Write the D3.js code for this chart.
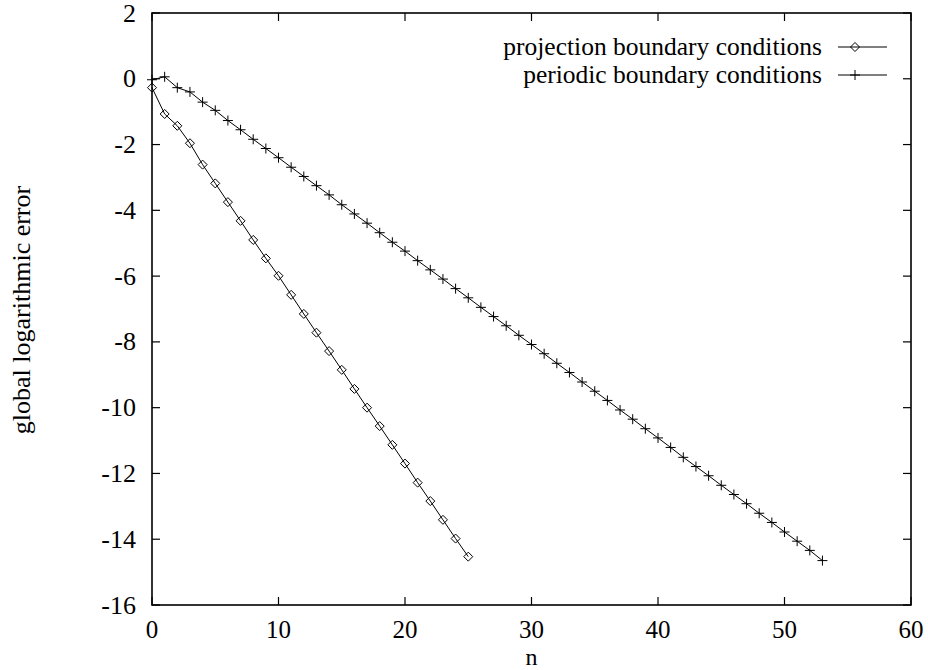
<!DOCTYPE html>
<html>
<head>
<meta charset="utf-8">
<script src="https://cdn.jsdelivr.net/npm/d3@7"></script>
<style>
  html, body { margin: 0; padding: 0; background: #fff; }
  svg { display: block; }
</style>
</head>
<body>
<svg id="chart" width="928" height="670"></svg>
<script>
// ---- data ----
const projectionN = d3.range(0, 26);
const projectionErr = [
  -0.27, -1.07, -1.43, -1.96, -2.61, -3.18, -3.75, -4.32, -4.90, -5.46,
  -5.99, -6.57, -7.15, -7.72, -8.28, -8.85, -9.43, -10.00, -10.56, -11.13,
  -11.70, -12.28, -12.84, -13.41, -13.98, -14.53
];
const periodicN = d3.range(0, 54);
const periodicErr = [
  -0.03, 0.06, -0.27, -0.40, -0.71, -0.96, -1.27, -1.55, -1.84, -2.12,
  -2.40, -2.69, -2.97, -3.25, -3.53, -3.83, -4.11, -4.39, -4.68, -4.97,
  -5.24, -5.53, -5.81, -6.09, -6.38, -6.66, -6.95, -7.23, -7.51, -7.80,
  -8.08, -8.36, -8.65, -8.93, -9.22, -9.50, -9.78, -10.07, -10.35, -10.64,
  -10.92, -11.21, -11.51, -11.79, -12.07, -12.36, -12.64, -12.92, -13.21, -13.49,
  -13.78, -14.06, -14.34, -14.65
];
const xTicks = [0, 10, 20, 30, 40, 50, 60];
const yTicks = [-16, -14, -12, -10, -8, -6, -4, -2, 0, 2];
const seriesNames = ["projection boundary conditions", "periodic boundary conditions"];
const xLabel = "n";
const yLabel = "global logarithmic error";

// ---- layout ----
const FONT = "'Liberation Serif', 'Times New Roman', Times, 'Nimbus Roman', 'DejaVu Serif', serif";
const L = 152, R = 911, T = 13, B = 605;
const svg = d3.select("#chart");
const x = d3.scaleLinear().domain([0, 60]).range([L, R]);
const y = d3.scaleLinear().domain([-16, 2]).range([B, T]);
const fs = 26;
const tickLen = 8;

// ticks (mirrored, inward)
const tg = svg.append("g").attr("stroke", "#000").attr("stroke-width", 1.2);
xTicks.forEach(t => {
  tg.append("line").attr("x1", x(t)).attr("x2", x(t)).attr("y1", B).attr("y2", B - tickLen);
  tg.append("line").attr("x1", x(t)).attr("x2", x(t)).attr("y1", T).attr("y2", T + tickLen);
});
yTicks.forEach(t => {
  tg.append("line").attr("x1", L).attr("x2", L + tickLen).attr("y1", y(t)).attr("y2", y(t));
  tg.append("line").attr("x1", R).attr("x2", R - tickLen).attr("y1", y(t)).attr("y2", y(t));
});

// tick labels
svg.append("g").selectAll("text").data(xTicks).join("text")
  .attr("x", d => x(d)).attr("y", 637.5)
  .attr("text-anchor", "middle").attr("font-size", 25).attr("font-family", FONT)
  .text(d => String(d));
svg.append("g").selectAll("text").data(yTicks).join("text")
  .attr("x", 136).attr("y", d => y(d)).attr("dy", "0.33em")
  .attr("text-anchor", "end").attr("font-size", fs).attr("font-family", FONT)
  .text(d => String(d));

// axis titles
svg.append("text").attr("x", x(30)).attr("y", 664.5)
  .attr("text-anchor", "middle").attr("font-size", 24).attr("font-family", FONT).text(xLabel);
svg.append("text").attr("transform", "translate(30,310) rotate(-90)")
  .attr("text-anchor", "middle").attr("font-size", fs).attr("font-family", FONT).text(yLabel);

// series
const line = d3.line().x(d => x(d[0])).y(d => y(d[1]));
const projData = projectionN.map((n, i) => [n, projectionErr[i]]);
const perData = periodicN.map((n, i) => [n, periodicErr[i]]);

const diamond = (g, cx, cy) => {
  const s = 4.5;
  g.append("path")
    .attr("d", `M${cx},${cy - s}L${cx + s},${cy}L${cx},${cy + s}L${cx - s},${cy}Z`)
    .attr("fill", "none").attr("stroke", "#000").attr("stroke-width", 1);
};
const plus = (g, cx, cy) => {
  const s = 5;
  g.append("path")
    .attr("d", `M${cx - s},${cy}H${cx + s}M${cx},${cy - s}V${cy + s}`)
    .attr("fill", "none").attr("stroke", "#000").attr("stroke-width", 1);
};

const sg = svg.append("g");
sg.append("path").datum(projData).attr("d", line)
  .attr("fill", "none").attr("stroke", "#000").attr("stroke-width", 1);
sg.append("path").datum(perData).attr("d", line)
  .attr("fill", "none").attr("stroke", "#000").attr("stroke-width", 1);
projData.forEach(d => diamond(sg, x(d[0]), y(d[1])));
perData.forEach(d => plus(sg, x(d[0]), y(d[1])));

// legend
const lg = svg.append("g");
const legendRows = [47, 75];
const lfs = 25.5;
seriesNames.forEach((name, i) => {
  const ly = legendRows[i];
  lg.append("text").attr("x", 822).attr("y", ly).attr("dy", "0.33em")
    .attr("text-anchor", "end").attr("font-size", lfs).attr("font-family", FONT).text(name);
  lg.append("line").attr("x1", 838).attr("x2", 887).attr("y1", ly).attr("y2", ly)
    .attr("stroke", "#000").attr("stroke-width", 1);
  if (i === 0) diamond(lg, 855, ly); else plus(lg, 855, ly);
});

// border
svg.append("rect").attr("x", L).attr("y", T).attr("width", R - L).attr("height", B - T)
  .attr("fill", "none").attr("stroke", "#000").attr("stroke-width", 1.6);
</script>
</body>
</html>
